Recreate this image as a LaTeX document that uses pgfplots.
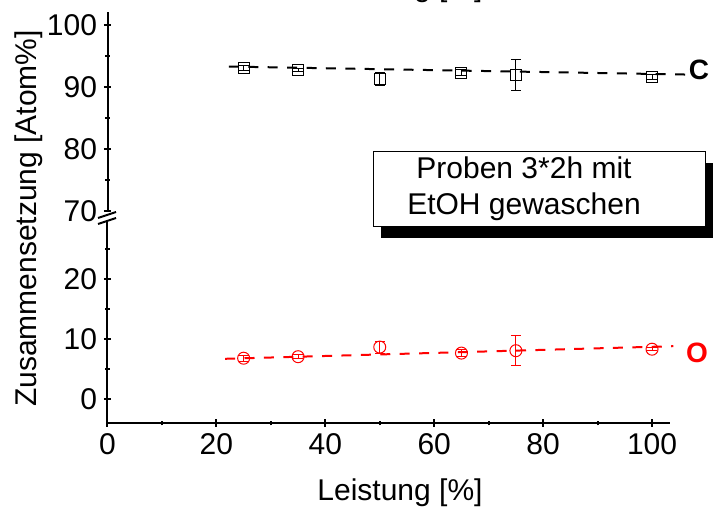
\documentclass[border=0pt]{standalone}
\usepackage{fontspec}
\setmainfont{Liberation Sans}
\usepackage{pgfplots}
\pgfplotsset{compat=1.18}

\pgfplotsset{
  brk/.style={
    scale only axis,
    width=281.25bp,
    xmin=0, xmax=103.3,
    axis line style={line width=1bp},
    tick style={line width=1bp, black},
    tick align=outside,
    major tick length=3.5bp,
    minor tick length=2.25bp,
    tick label style={font=\fontsize{15bp}{18bp}\selectfont},
    /pgf/number format/assume math mode=true,
    clip=false,
  },
  errs/.style={
    only marks,
    error bars/.cd, y dir=both, y explicit,
    error bar style={line width=0.5bp},
    error mark options={rotate=90, mark size=2.5bp, line width=0.5bp},
  },
}

\begin{document}
\begin{tikzpicture}[font=\fontsize{15bp}{18bp}\selectfont]
\useasboundingbox (0,0) rectangle (356.5bp,254.5bp);
\clip (0,0) rectangle (356.5bp,254.5bp);

% lower part: O
\begin{axis}[brk,
    at={(53.75bp,43bp)}, anchor=south west,
    height=100.5bp,
    ymin=-4, ymax=29.5,
    axis x line=bottom, axis y line=left,
    x axis line style={-}, y axis line style={-},
    xtick={0,20,...,100}, minor x tick num=1,
    ytick={0,10,20}, minor ytick={5,15,25},
]
\addplot[red, line width=1bp, dash pattern=on 5bp off 4.7bp] coordinates {(21.6,6.7) (103.9,8.8)};
\addplot[red, mark=o, mark size=3bp, mark options={line width=0.5bp}, errs] table[x=x, y=y, y error=e] {
x y e
25 6.8 0.5
35 7.05 0.3
50 8.65 1.0
65 7.65 0.6
75 8.05 2.5
100 8.3 0.3
};
\end{axis}

% upper part: C
\begin{axis}[brk,
    at={(53.75bp,149bp)}, anchor=south west,
    height=99.5bp,
    ymin=70, ymax=102.1,
    axis x line=none, axis y line=left,
    y axis line style={-},
    ytick={70,80,90,100}, minor ytick={75,85,95},
]
\addplot[black, line width=1bp, dash pattern=on 5bp off 4.7bp] coordinates {(22.3,93.3) (107,92.0)};
\addplot[black, mark=square, mark size=2.75bp, mark options={line width=0.5bp}, errs] table[x=x, y=y, y error=e] {
x y e
25 93.05 0.45
35 92.75 0.3
50 91.3 1.1
65 92.3 0.5
75 91.9 2.5
100 91.6 0.35
};
\end{axis}

% axis break
\fill[white] (49bp,145.5bp) -- (58bp,148.5bp) -- (58bp,145.5bp) -- (49bp,142.5bp) -- cycle;
\draw[line width=1bp] (49bp,145.5bp) -- (58bp,148.5bp);
\draw[line width=1bp] (49bp,142.5bp) -- (58bp,145.5bp);

% labels
\node[anchor=base] at (200bp,4.5bp) {Leistung [\%]};
\node[anchor=base] at (200bp,256bp) {Leistung [\%]};
\node[rotate=90, anchor=base] at (18.25bp,145.25bp) {Zusammensetzung [Atom\%]};
\node[font=\fontsize{14bp}{17bp}\selectfont\bfseries] at (349.5bp,219.75bp) {C};
\node[font=\fontsize{14bp}{17bp}\selectfont\bfseries, text=red] at (348.5bp,78.25bp) {O};

% note box
\fill[black] (190.5bp,135.5bp) rectangle (356.5bp,173bp);
\draw[fill=white, line width=0.5bp] (186.5bp,141bp) rectangle (352.5bp,178.5bp);
\node[anchor=base] at (262bp,165bp) {Proben 3*2h mit};
\node[anchor=base] at (262bp,147bp) {EtOH gewaschen};
\end{tikzpicture}
\end{document}
